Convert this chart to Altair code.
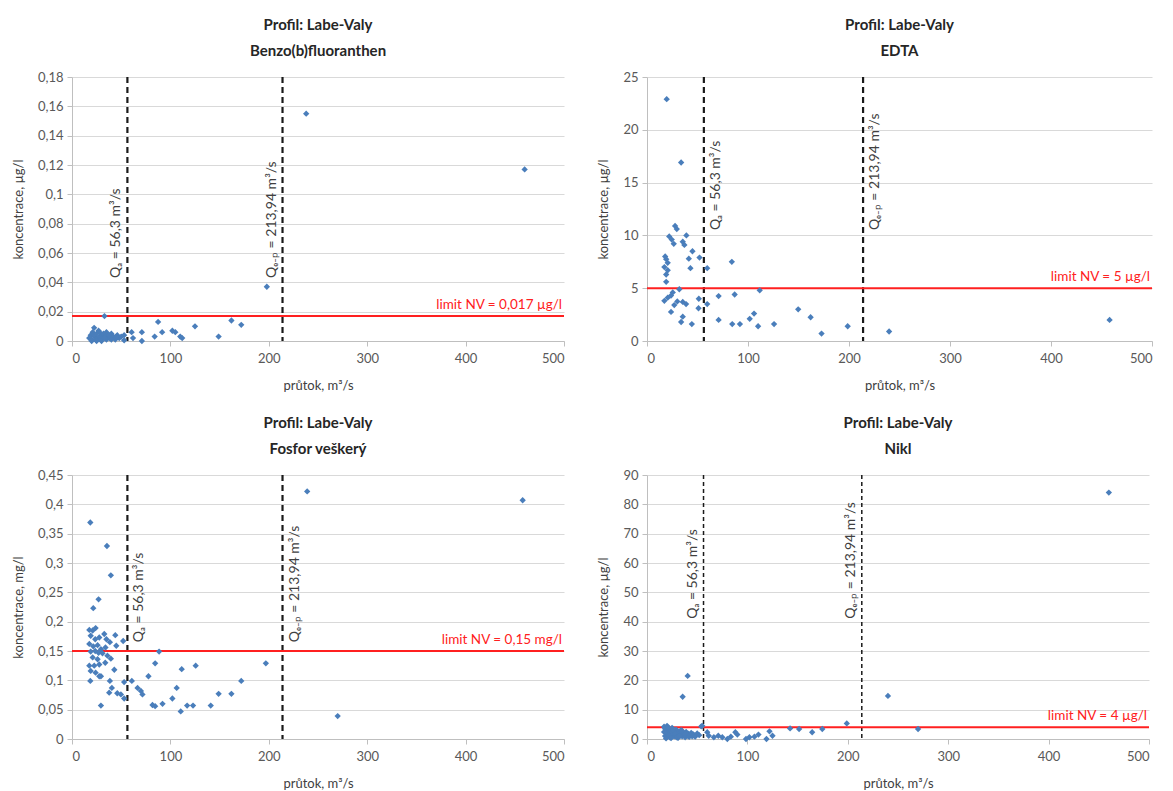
import altair as alt
import pandas as pd

FONT = "Lato"
X_TICKS = [0, 100, 200, 300, 400, 500]
Q_A = 56.3
Q_EP = 213.94
Q_LABELS = ["Qₐ = 56,3 m³/s", "Qₑ₋ₚ = 213,94 m³/s"]
PROFILE = "Profil: Labe-Valy"

# Benzo(b)fluoranthen
bf_q = [238, 460, 198, 33, 87.5, 162, 172, 125, 149, 102, 105, 110, 112, 91.6, 84, 71, 71, 60.6, 62, 53, 53,
        17.5, 19, 20, 21, 22.5, 23, 24, 25, 26, 27, 28, 29, 30, 31, 32, 34, 35, 36, 38, 40, 42, 44, 46, 48, 50,
        25, 30, 35, 40, 45, 22, 28, 33, 38, 20]
bf_c = [0.155, 0.117, 0.037, 0.017, 0.013, 0.014, 0.011, 0.010, 0.003, 0.007, 0.006, 0.003, 0.002, 0.006, 0.003,
        0.006, 0.0, 0.006, 0.002, 0.004, 0.0005,
        0.002, 0.004, 0.001, 0.006, 0.009, 0.003, 0.001, 0.005, 0.002, 0.007, 0.003, 0.001, 0.004, 0.002, 0.005,
        0.003, 0.001, 0.004, 0.002, 0.005, 0.003, 0.001, 0.004, 0.002, 0.003,
        0.0, 0.0, 0.006, 0.001, 0.003, 0.004, 0.006, 0.002, 0.004, 0.0]

# EDTA
edta_q = [19.5, 33.8, 27.8, 29.5, 22, 24.5, 26.5, 35.4, 39, 37, 45, 52, 41.4, 43, 59.6, 84, 18, 19, 20.5, 17.2,
          20.5, 19, 19, 32, 25.5, 23.8, 20.5, 17.2, 30, 35.4, 38.7, 27, 23.8, 35.4, 33.8, 44.4, 51.3, 51, 59.6,
          70.9, 70.9, 86.8, 84.4, 92, 101.7, 106, 111.6, 110, 125.8, 149.7, 162, 172.8, 198.7, 239.7, 458]
edta_c = [22.9, 16.9, 10.9, 10.6, 9.9, 9.6, 9.2, 9.4, 10.0, 9.1, 8.5, 7.9, 7.8, 6.9, 6.9, 7.5, 8.0, 7.75, 7.4, 7.0,
          6.7, 6.3, 5.6, 4.9, 4.6, 4.3, 4.1, 3.8, 3.75, 3.7, 3.5, 3.4, 2.75, 2.3, 1.8, 1.6, 4.0, 3.1, 3.5,
          4.25, 2.0, 4.4, 1.6, 1.6, 2.1, 2.6, 4.8, 1.4, 1.6, 3.0, 2.25, 0.7, 1.4, 0.9, 2.0]

# Fosfor veškerý
p_q = [239, 18.6, 35.5, 39.5, 27, 21.6, 17.6, 21, 24, 19, 23.6, 27.7, 32.8, 35, 38.5, 44, 45, 52, 17.6, 21.6,
       26, 29.4, 34, 19, 23.6, 27, 31, 36, 39.5, 21, 26, 17.6, 22.6, 27.7, 33.8, 19, 24, 29.4, 18.6, 27.7,
       43, 38.5, 40.5, 37.8, 46, 49.7, 53, 53, 60.8, 66.6, 70, 71.6, 77.7, 84.5, 88.5, 81.8, 84.5, 92, 102,
       106.4, 111.5, 110.5, 117, 123, 125.7, 141, 149, 162, 172, 197, 29.4, 270, 458]
p_c = [0.422, 0.369, 0.329, 0.279, 0.238, 0.223, 0.186, 0.185, 0.189, 0.176, 0.170, 0.173, 0.179, 0.170, 0.165,
       0.177, 0.159, 0.167, 0.162, 0.158, 0.160, 0.153, 0.156, 0.149, 0.150, 0.147, 0.146, 0.142, 0.137, 0.139,
       0.136, 0.125, 0.125, 0.127, 0.130, 0.116, 0.113, 0.107, 0.099, 0.107, 0.118, 0.099, 0.087, 0.079, 0.078,
       0.076, 0.069, 0.097, 0.099, 0.087, 0.082, 0.076, 0.107, 0.129, 0.149, 0.058, 0.056, 0.060, 0.069, 0.087,
       0.119, 0.047, 0.057, 0.057, 0.125, 0.057, 0.077, 0.077, 0.099, 0.129, 0.057, 0.039, 0.407]

# Nikl
ni_q = [40.5, 35.5, 240, 199, 54, 142.5, 151.5, 164.5, 174.6, 122, 125, 119, 111, 107, 102, 98.6, 90, 88, 83.5,
        80, 75, 71, 66.6, 60, 61.5, 270, 460,
        17, 18, 19, 20, 21, 22, 23, 24, 25, 26, 27, 28, 29, 30, 31, 32, 33, 34, 35, 36, 37, 38, 39, 40, 41, 42,
        43, 44, 45, 46, 47, 48, 50, 52, 55, 18, 19, 20, 22, 24, 26, 28, 30, 32, 35, 38, 17, 21]
ni_c = [21.5, 14.4, 14.7, 5.3, 4.3, 3.6, 3.4, 2.3, 3.4, 2.6, 1.1, 0.0, 1.5, 0.8, 0.6, 0.0, 1.5, 2.3, 0.8,
        0.0, 0.6, 1.1, 0.6, 2.3, 1.1, 3.4, 84,
        4.2, 3.5, 2.8, 4.5, 1.5, 3.0, 0.5, 2.2, 3.8, 1.0, 2.5, 0.8, 3.2, 1.8, 0.4, 2.6, 1.2, 3.0, 0.9, 2.0, 1.4,
        0.6, 2.4, 1.1, 1.8, 0.7, 1.5, 2.1, 0.9, 1.6, 1.2, 0.8, 1.9, 1.3, 4.5, 1.0, 0.2, 2.0, 1.2, 0.3, 2.9, 1.9,
        0.5, 1.0, 2.8, 1.7, 2.4, 3.9]

BF_TICKS = [0, 0.02, 0.04, 0.06, 0.08, 0.1, 0.12, 0.14, 0.16, 0.18]
EDTA_TICKS = [0, 5, 10, 15, 20, 25]
P_TICKS = [0, 0.05, 0.1, 0.15, 0.2, 0.25, 0.3, 0.35, 0.4, 0.45]
NI_TICKS = [0, 10, 20, 30, 40, 50, 60, 70, 80, 90]


def make_panel(q, c, name, ytitle, yticks, limit, limit_label, lab_y, side, thin, width):
    df = pd.DataFrame({"q": q, "c": c})
    x = alt.X("q:Q", scale=alt.Scale(domain=[0, 500], nice=False, zero=True),
              axis=alt.Axis(values=X_TICKS, title="průtok, m³/s", grid=False))
    y = alt.Y("c:Q", scale=alt.Scale(domain=[0, yticks[-1]], nice=False),
              axis=alt.Axis(values=yticks, title=ytitle,
                            labelExpr="replace(format(datum.value, '~g'), '.', ',')"))
    pts = alt.Chart(df).mark_point(shape="diamond", filled=True, size=40, color="#4a7ebb",
                                   opacity=1).encode(x=x, y=y)
    vdf = pd.DataFrame({"q": [Q_A, Q_EP], "c": [lab_y, lab_y], "t": Q_LABELS})
    if thin:
        vrules = alt.Chart(vdf).mark_rule(color="#1a1a1a", strokeWidth=1.5, strokeDash=[4, 3]).encode(x=x)
    else:
        vrules = alt.Chart(vdf).mark_rule(color="#1a1a1a", strokeWidth=2.2, strokeDash=[6, 4]).encode(x=x)
    if side == "left":
        vtext = alt.Chart(vdf).mark_text(angle=270, align="left", baseline="bottom", dy=-4, fontSize=14,
                                         font=FONT, color="#404040")
    else:
        vtext = alt.Chart(vdf).mark_text(angle=270, align="left", baseline="top", dy=5, fontSize=14,
                                         font=FONT, color="#404040")
    vtext = vtext.encode(x=x, y=y, text="t:N")
    ldf = pd.DataFrame({"q": [500], "c": [limit], "t": [limit_label]})
    lrule = alt.Chart(ldf).mark_rule(color="#ff2020", strokeWidth=2).encode(y=y)
    ltext = alt.Chart(ldf).mark_text(align="right", baseline="bottom", dy=-4, dx=-2, fontSize=13.5,
                                     font=FONT, color="#ff2020").encode(x=x, y=y, text="t:N")
    return alt.layer(vrules, lrule, pts, vtext, ltext).properties(
        width=width, height=264,
        title=alt.TitleParams([PROFILE, name], fontSize=15, fontWeight="bold", font=FONT,
                              color="#262626", lineHeight=26, offset=12, anchor="middle"))


p1 = make_panel(bf_q, bf_c, "Benzo(b)fluoranthen", "koncentrace, µg/l", BF_TICKS, 0.017,
                "limit NV = 0,017 µg/l", 0.043, "left", False, 492)
p2 = make_panel(edta_q, edta_c, "EDTA", "koncentrace, µg/l", EDTA_TICKS, 5,
                "limit NV = 5 µg/l", 10.5, "right", False, 505)
p3 = make_panel(p_q, p_c, "Fosfor veškerý", "koncentrace, mg/l", P_TICKS, 0.15,
                "limit NV = 0,15 mg/l", 0.165, "right", False, 492)
p4 = make_panel(ni_q, ni_c, "Nikl", "koncentrace, µg/l", NI_TICKS, 4,
                "limit NV = 4 µg/l", 41, "left", True, 502)

row1 = alt.hconcat(p1, p2, spacing=32)
row2 = alt.hconcat(p3, p4, spacing=32)
chart = alt.vconcat(row1, row2, spacing=24).properties(
    padding={"left": 4, "top": 10, "right": 0, "bottom": 0}, background="white"
).configure_view(stroke=None).configure_axis(
    labelFont=FONT, titleFont=FONT, labelFontSize=13, titleFontSize=13,
    labelColor="#595959", titleColor="#404040", titleFontWeight="normal",
    domainColor="#bfbfbf", tickColor="#bfbfbf", tickSize=5, labelPadding=4,
    gridColor="#d9d9d9", titlePadding=8
).configure_axisX(labelPadding=6, titlePadding=14).configure_axisY(titlePadding=12)

chart.save("out.html", embed_options={"renderer": "svg", "actions": False})
